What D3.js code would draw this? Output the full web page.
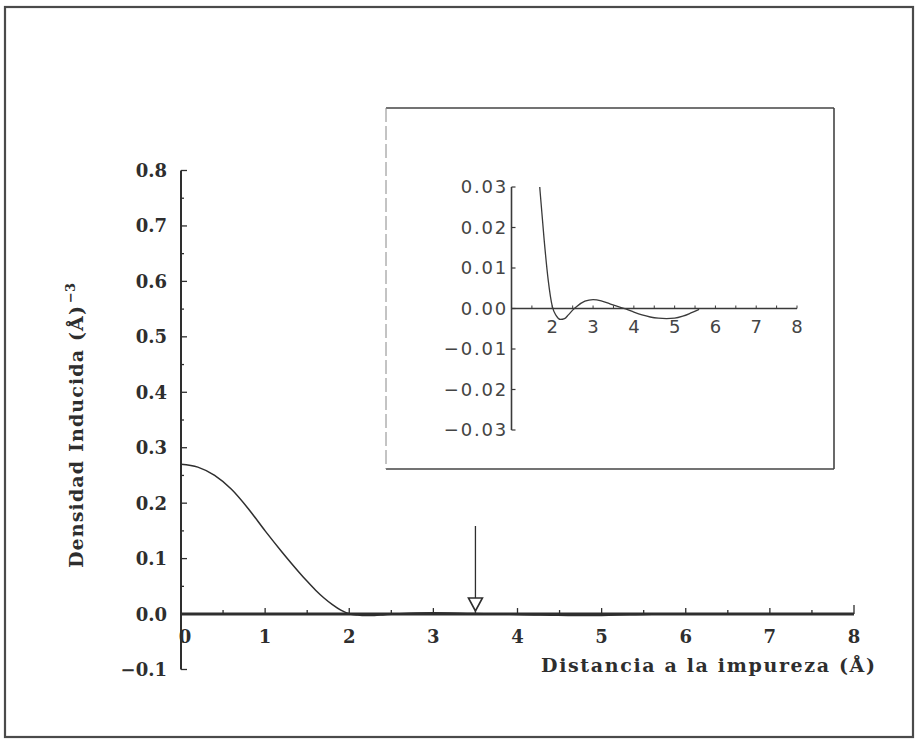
<!DOCTYPE html>
<html><head><meta charset="utf-8">
<script src="https://cdn.jsdelivr.net/npm/d3@7"></script>
<style>
html,body{margin:0;padding:0;background:#fff;}
svg{display:block;}
</style></head>
<body>
<script>
// ---- data ----
const distance = [0,0.2,0.4,0.6,0.8,1.0,1.2,1.4,1.5,1.6,1.7,1.8,1.9,2.0,2.1,2.2,2.3,2.4,2.5,2.6,2.8,3.0,3.2,3.4,3.6,3.8,4.0,4.2,4.4,4.6,4.8,5.0,5.2,5.4,5.6];
const density  = [0.270,0.265,0.250,0.225,0.190,0.150,0.112,0.076,0.059,0.043,0.029,0.017,0.007,0.0005,-0.0018,-0.0027,-0.0025,-0.0015,-0.0004,0.0005,0.0018,0.0022,0.0019,0.0012,0.0005,-0.0001,-0.0009,-0.0016,-0.0021,-0.0024,-0.0025,-0.0024,-0.0019,-0.0011,-0.0002];
const mainXTicks = [0,1,2,3,4,5,6,7,8];
const mainYTicks = [-0.1,0.0,0.1,0.2,0.3,0.4,0.5,0.6,0.7,0.8];
const insetXTicks = [2,3,4,5,6,7,8];
const insetYTicks = [-0.03,-0.02,-0.01,0.00,0.01,0.02,0.03];
const arrowAt = 3.5;
const xTitle = "Distancia a la impureza (Å)";
const yTitle = "Densidad Inducida (Å)";
const yTitleSup = "−3";

const W = 916, H = 744;
const ink = "#2e2e2e";
const svg = d3.select("body").append("svg").attr("width", W).attr("height", H);
svg.append("rect").attr("width", W).attr("height", H).attr("fill", "#fff");

// outer frame
svg.append("rect").attr("x", 5).attr("y", 7).attr("width", 908).attr("height", 730)
  .attr("fill", "none").attr("stroke", "#4a4a4a").attr("stroke-width", 2.2);

const data = distance.map((d, i) => ({x: d, y: density[i]}));
const fmtMinus = s => s.replace("-", "−");

// ---- main chart ----
const x = d3.scaleLinear().domain([0, 8]).range([181, 854]);
const y = d3.scaleLinear().domain([-0.1, 0.8]).range([669.5, 170.5]);
const serif = "'DejaVu Serif', serif";

const gm = svg.append("g");
gm.append("line").attr("x1", x(0)).attr("x2", x(0)).attr("y1", y(0.8)).attr("y2", y(-0.1))
  .attr("stroke", ink).attr("stroke-width", 2);
d3.range(-0.1, 0.8001, 0.05).forEach(v => {
  const major = Math.abs(Math.round(v * 10) - v * 10) < 1e-6;
  gm.append("line").attr("x1", x(0)).attr("x2", x(0) + (major ? 6 : 3))
    .attr("y1", y(v)).attr("y2", y(v)).attr("stroke", ink).attr("stroke-width", 1.3);
});
gm.selectAll("text.yt").data(mainYTicks).enter().append("text")
  .attr("x", 167).attr("y", d => y(d)).attr("dy", "0.36em")
  .attr("text-anchor", "end").attr("font-family", serif).attr("font-weight", "bold")
  .attr("font-size", 18).attr("fill", ink)
  .text(d => fmtMinus(d3.format(".1f")(d)));

gm.append("line").attr("x1", x(0)).attr("x2", x(8)).attr("y1", y(0)).attr("y2", y(0))
  .attr("stroke", ink).attr("stroke-width", 3);
d3.range(0, 8.001, 0.5).forEach(v => {
  const major = Math.abs(v - Math.round(v)) < 1e-6;
  const len = v === 8 ? 9 : (major ? 6 : 4);
  gm.append("line").attr("x1", x(v)).attr("x2", x(v)).attr("y1", y(0)).attr("y2", y(0) - len)
    .attr("stroke", ink).attr("stroke-width", 1.3);
});
gm.selectAll("text.xt").data(mainXTicks).enter().append("text")
  .attr("x", d => x(d) + (d === 0 ? 4 : 0)).attr("y", y(0) + 29)
  .attr("text-anchor", "middle").attr("font-family", serif).attr("font-weight", "bold")
  .attr("font-size", 18).attr("fill", ink).text(d => d);

const lineMain = d3.line().x(d => x(d.x)).y(d => y(d.y)).curve(d3.curveMonotoneX);
gm.append("path").datum(data).attr("d", lineMain).attr("fill", "none")
  .attr("stroke", ink).attr("stroke-width", 1.5);

const ax = x(arrowAt);
gm.append("line").attr("x1", ax).attr("x2", ax).attr("y1", 526).attr("y2", 598)
  .attr("stroke", ink).attr("stroke-width", 1.3);
gm.append("path").attr("d", `M${ax - 7},598 L${ax + 7},598 L${ax},611 Z`)
  .attr("fill", "#fff").attr("stroke", ink).attr("stroke-width", 1.6);

gm.append("text").attr("x", 541).attr("y", 672)
  .attr("font-family", serif).attr("font-weight", "bold").attr("font-size", 19)
  .attr("textLength", 334).attr("lengthAdjust", "spacing")
  .attr("fill", ink).text(xTitle);
const yt = gm.append("text").attr("transform", "translate(83,568) rotate(-90)")
  .attr("font-family", serif).attr("font-weight", "bold")
  .attr("font-size", 19).attr("fill", ink);
yt.append("tspan").attr("textLength", 262).attr("lengthAdjust", "spacing").text(yTitle);
yt.append("tspan").attr("dy", -8).attr("dx", 2).attr("font-size", 13).text(yTitleSup);

// ---- inset ----
const gi = svg.append("g");
gi.append("line").attr("x1", 386).attr("x2", 834).attr("y1", 108).attr("y2", 108).attr("stroke", "#444").attr("stroke-width", 1.6);
gi.append("line").attr("x1", 834).attr("x2", 834).attr("y1", 108).attr("y2", 469).attr("stroke", "#444").attr("stroke-width", 1.6);
gi.append("line").attr("x1", 386).attr("x2", 834).attr("y1", 469).attr("y2", 469).attr("stroke", "#444").attr("stroke-width", 1.6);
gi.append("line").attr("x1", 386).attr("x2", 386).attr("y1", 108).attr("y2", 469).attr("stroke", "#888").attr("stroke-width", 1).attr("stroke-dasharray", "14,4");

const xi = d3.scaleLinear().domain([1, 8]).range([511.5, 797]);
const yi = d3.scaleLinear().domain([-0.03, 0.03]).range([430, 187]);
const sans = "'DejaVu Sans', sans-serif";
const inkI = "#3a3a3a";

gi.append("line").attr("x1", xi(1)).attr("x2", xi(1)).attr("y1", yi(0.03)).attr("y2", yi(-0.03))
  .attr("stroke", inkI).attr("stroke-width", 1.6);
insetYTicks.forEach(v => {
  gi.append("line").attr("x1", xi(1)).attr("x2", xi(1) + 4).attr("y1", yi(v)).attr("y2", yi(v))
    .attr("stroke", inkI).attr("stroke-width", 1.2);
});
gi.selectAll("text.iyt").data(insetYTicks).enter().append("text")
  .attr("x", 508).attr("y", d => yi(d)).attr("dy", "0.36em").attr("text-anchor", "end")
  .attr("font-family", sans).attr("font-size", 18).attr("fill", "#444")
  .attr("letter-spacing", 1.8)
  .text(d => fmtMinus(d3.format(".2f")(d)));

gi.append("line").attr("x1", xi(1)).attr("x2", xi(8)).attr("y1", yi(0)).attr("y2", yi(0))
  .attr("stroke", inkI).attr("stroke-width", 1.4);
d3.range(1.5, 8.001, 0.5).forEach(v => {
  gi.append("line").attr("x1", xi(v)).attr("x2", xi(v)).attr("y1", yi(0)).attr("y2", yi(0) - 3)
    .attr("stroke", inkI).attr("stroke-width", 1);
});
gi.selectAll("text.ixt").data(insetXTicks).enter().append("text")
  .attr("x", d => xi(d)).attr("y", yi(0) + 24).attr("text-anchor", "middle")
  .attr("font-family", sans).attr("font-size", 18).attr("fill", "#444").text(d => d);

svg.append("clipPath").attr("id", "insetClip").append("rect")
  .attr("x", xi(1)).attr("y", yi(0.03)).attr("width", xi(8) - xi(1)).attr("height", yi(-0.03) - yi(0.03));
const lineInset = d3.line().x(d => xi(d.x)).y(d => yi(d.y)).curve(d3.curveMonotoneX);
gi.append("path").datum(data.filter(d => d.x >= 1.4)).attr("d", lineInset)
  .attr("clip-path", "url(#insetClip)").attr("fill", "none").attr("stroke", inkI).attr("stroke-width", 1.3);
</script>
</body></html>
